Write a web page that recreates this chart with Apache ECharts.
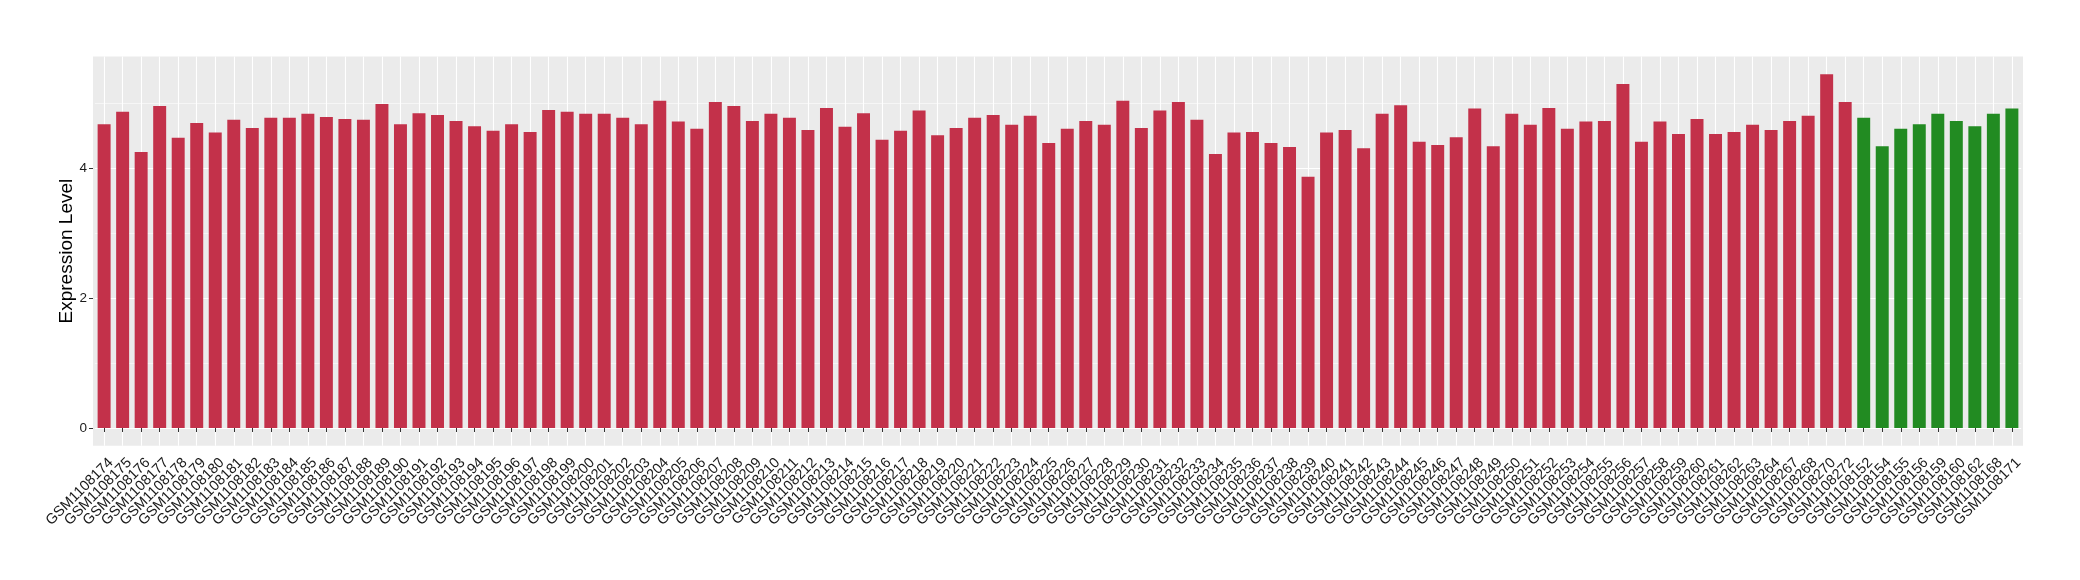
<!DOCTYPE html>
<html>
<head>
<meta charset="utf-8">
<script src="https://cdn.jsdelivr.net/npm/echarts@6/dist/echarts.min.js"></script>
<style>
html,body{margin:0;padding:0;background:#fff;}
#chart{width:2080px;height:580px;}
</style>
</head>
<body>
<div id="chart"></div>
<script>
// ---- data ----
const groupASamples = ['GSM1108174','GSM1108175','GSM1108176','GSM1108177','GSM1108178','GSM1108179','GSM1108180','GSM1108181','GSM1108182','GSM1108183','GSM1108184','GSM1108185','GSM1108186','GSM1108187','GSM1108188','GSM1108189','GSM1108190','GSM1108191','GSM1108192','GSM1108193','GSM1108194','GSM1108195','GSM1108196','GSM1108197','GSM1108198','GSM1108199','GSM1108200','GSM1108201','GSM1108202','GSM1108203','GSM1108204','GSM1108205','GSM1108206','GSM1108207','GSM1108208','GSM1108209','GSM1108210','GSM1108211','GSM1108212','GSM1108213','GSM1108214','GSM1108215','GSM1108216','GSM1108217','GSM1108218','GSM1108219','GSM1108220','GSM1108221','GSM1108222','GSM1108223','GSM1108224','GSM1108225','GSM1108226','GSM1108227','GSM1108228','GSM1108229','GSM1108230','GSM1108231','GSM1108232','GSM1108233','GSM1108234','GSM1108235','GSM1108236','GSM1108237','GSM1108238','GSM1108239','GSM1108240','GSM1108241','GSM1108242','GSM1108243','GSM1108244','GSM1108245','GSM1108246','GSM1108247','GSM1108248','GSM1108249','GSM1108250','GSM1108251','GSM1108252','GSM1108253','GSM1108254','GSM1108255','GSM1108256','GSM1108257','GSM1108258','GSM1108259','GSM1108260','GSM1108261','GSM1108262','GSM1108263','GSM1108264','GSM1108267','GSM1108268','GSM1108270','GSM1108272'];
const groupAValues = [4.68,4.87,4.25,4.96,4.47,4.70,4.55,4.75,4.62,4.78,4.78,4.84,4.79,4.76,4.75,4.99,4.68,4.85,4.82,4.73,4.65,4.58,4.68,4.56,4.90,4.87,4.84,4.84,4.78,4.68,5.04,4.72,4.61,5.02,4.96,4.73,4.84,4.78,4.59,4.93,4.64,4.85,4.44,4.58,4.89,4.51,4.62,4.78,4.82,4.67,4.81,4.39,4.61,4.73,4.67,5.04,4.62,4.89,5.02,4.75,4.22,4.55,4.56,4.39,4.33,3.87,4.55,4.59,4.31,4.84,4.97,4.41,4.36,4.48,4.92,4.34,4.84,4.67,4.93,4.61,4.72,4.73,5.30,4.41,4.72,4.53,4.76,4.53,4.56,4.67,4.59,4.73,4.81,5.45,5.02];
const groupBSamples = ['GSM1108152','GSM1108154','GSM1108155','GSM1108156','GSM1108159','GSM1108160','GSM1108162','GSM1108168','GSM1108171'];
const groupBValues = [4.78,4.34,4.61,4.68,4.84,4.73,4.65,4.84,4.92];
const yTickValues = [0, 2, 4];
const yMinorValues = [1, 3, 5];
const yTitle = 'Expression Level';

// ---- styles ----
const colorA = '#C3314A';
const colorB = '#228B22';
const FONT = '"Liberation Sans", Arial, Helvetica, sans-serif';

const categories = groupASamples.concat(groupBSamples);
const barData = groupAValues.map(v => ({value: v, itemStyle: {color: colorA}}))
  .concat(groupBValues.map(v => ({value: v, itemStyle: {color: colorB}})));

const allVals = groupAValues.concat(groupBValues);
const dataMax = Math.max.apply(null, allVals);
const pad = dataMax * 0.05;

// panel geometry
const panelLeft = 93, panelRight = 2023, panelTop = 56.5, panelBottom = 445.7;
const n = categories.length;
const unit = (panelRight - panelLeft) / (n + 0.2);
const gridLeft = panelLeft + 0.1 * unit;
const gridRightEdge = panelRight - 0.1 * unit;

const chart = echarts.init(document.getElementById('chart'), null, {renderer: 'canvas'});
chart.setOption({
  animation: false,
  backgroundColor: '#ffffff',
  graphic: [{
    type: 'rect', z: -100, silent: true,
    shape: {x: panelLeft, y: panelTop, width: panelRight - panelLeft, height: panelBottom - panelTop},
    style: {fill: '#EBEBEB'}
  }],
  grid: {
    left: gridLeft, right: 2080 - gridRightEdge,
    top: panelTop, bottom: 580 - panelBottom,
    containLabel: false, show: false
  },
  xAxis: {
    type: 'category',
    data: categories,
    boundaryGap: true,
    axisLine: {show: false},
    axisTick: {show: true, alignWithLabel: true, length: 4, lineStyle: {color: '#333333', width: 1}},
    splitLine: {show: true, alignWithLabel: true, lineStyle: {color: '#FFFFFF', width: 1.1}},
    axisLabel: {
      interval: 0, rotate: 45, margin: 8,
      verticalAlign: 'top', align: 'right',
      padding: [2, 0, 0, 0],
      fontFamily: FONT, fontSize: 14.5, color: '#1A1A1A'
    }
  },
  yAxis: {
    type: 'value',
    min: -pad, max: dataMax + pad,
    offset: gridLeft - panelLeft,
    axisLine: {show: false},
    splitLine: {show: false},
    axisTick: {show: true, length: 4, customValues: yTickValues, lineStyle: {color: '#333333', width: 1}},
    axisLabel: {customValues: yTickValues, margin: 6, fontFamily: FONT, fontSize: 13.5, color: '#1A1A1A'},
    name: yTitle,
    nameLocation: 'middle',
    nameGap: 17,
    nameMoveOverlap: false,
    nameTextStyle: {fontFamily: FONT, fontSize: 19, color: '#000000'}
  },
  series: [
    {
      type: 'line', data: [], silent: true, z: 0,
      markLine: {
        silent: true, symbol: 'none', z: 0, animation: false,
        label: {show: false},
        data: yTickValues.map(v => ({yAxis: v, lineStyle: {color: '#FFFFFF', width: 1.1, type: 'solid'}}))
          .concat(yMinorValues.map(v => ({yAxis: v, lineStyle: {color: '#FFFFFF', width: 0.55, type: 'solid'}})))
      }
    },
    {
      type: 'bar',
      data: barData,
      barWidth: '70%',
      z: 2
    }
  ]
});
</script>
</body>
</html>
